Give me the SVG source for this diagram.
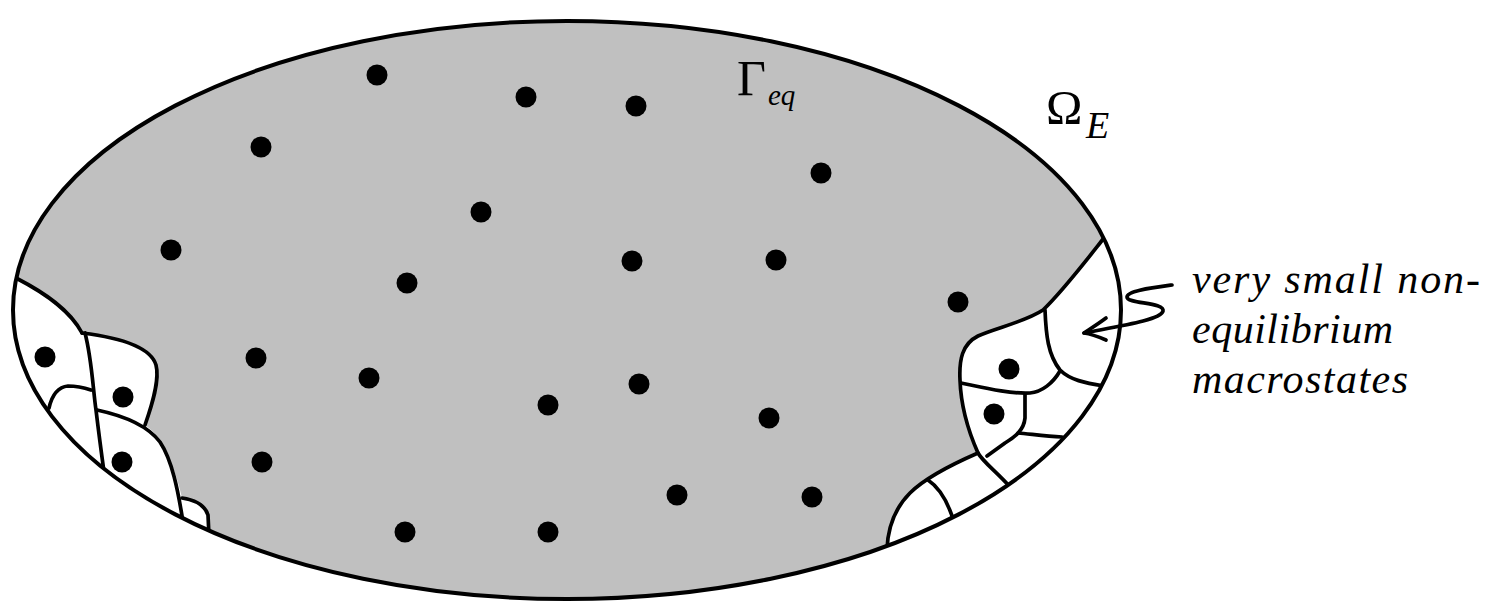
<svg xmlns="http://www.w3.org/2000/svg" width="1485" height="602" viewBox="0 0 1485 602">
<style>
.ln{fill:none;stroke:#000;stroke-width:3.7;stroke-linecap:round;stroke-linejoin:round}
.dot{fill:#000}
.t{font-family:"Liberation Serif","Times New Roman",serif;fill:#000}
.it{font-style:italic}
</style>
<defs>
<clipPath id="clipE"><ellipse cx="567" cy="310" rx="554" ry="289"/></clipPath>
</defs>
<rect width="1485" height="602" fill="#fff"/>
<g id="phase-space">
<ellipse cx="567" cy="310" rx="554" ry="289" fill="#c0c0c0"/>
</g>
<g id="noneq-left" clip-path="url(#clipE)">
<path fill="#fff" d="M0,262 L16,278 C45,293 70,310 82,333 C115,337 150,345 156,365 C160,380 152,405 145,425 C152,430 158,436 162,444 C172,462 178,480 182,498 C195,500 205,505 208,515 L209,548 L0,548 Z"/>
<path class="ln" d="M16,278 C45,293 70,310 82,333"/>
<path class="ln" d="M82,333 C115,337 150,345 156,365 C160,380 152,405 145,425"/>
<path class="ln" d="M85,333 C92,360 93,390 96,410 C99,435 101,450 104,472"/>
<path class="ln" d="M49,408 C52,395 58,387 68,386 C78,386 85,388 91,390"/>
<path class="ln" d="M97,410 C125,416 148,426 160,442 C172,460 178,490 183,522"/>
<path class="ln" d="M182,498 C195,500 205,505 208,515 L209,536"/>
</g>
<g id="noneq-right" clip-path="url(#clipE)">
<path fill="#fff" d="M1110,232 L1102,240 C1085,262 1062,292 1043,310 C1025,322 995,328 978,336 C962,344 959,360 960,380 C961,410 970,435 978,453 C955,463 925,478 910,493 C897,506 888,525 887,547 L887,602 L1140,602 L1140,232 Z"/>
<path class="ln" d="M1104,238 C1085,262 1062,292 1043,310 C1025,322 995,328 978,336 C962,344 959,360 960,380 C961,410 970,435 978,453 C983,462 997,472 1011,488"/>
<path class="ln" d="M978,453 C955,463 925,478 910,493 C897,506 888,525 887,549"/>
<path class="ln" d="M1045,310 C1046,335 1048,355 1060,370 C1070,380 1085,383 1104,386"/>
<path class="ln" d="M961,383 C985,388 1010,394 1030,393 C1042,392 1053,383 1060,371"/>
<path class="ln" d="M1025,394 L1025,418 C1024,430 1015,437 1005,443 L987,456"/>
<path class="ln" d="M1018,433 C1030,434 1045,436 1062,437"/>
<path class="ln" d="M928,480 C940,488 948,502 954,522"/>
</g>
<g id="boundary">
<ellipse cx="567" cy="310" rx="554" ry="289" fill="none" stroke="#000" stroke-width="4"/>
</g>
<g id="microstates">
<circle class="dot" cx="377" cy="75" r="10.5"/>
<circle class="dot" cx="526" cy="97" r="10.5"/>
<circle class="dot" cx="636" cy="106" r="10.5"/>
<circle class="dot" cx="261" cy="147" r="10.5"/>
<circle class="dot" cx="821" cy="173" r="10.5"/>
<circle class="dot" cx="481" cy="212" r="10.5"/>
<circle class="dot" cx="171" cy="250" r="10.5"/>
<circle class="dot" cx="632" cy="261" r="10.5"/>
<circle class="dot" cx="776" cy="260" r="10.5"/>
<circle class="dot" cx="407" cy="283" r="10.5"/>
<circle class="dot" cx="958" cy="302" r="10.5"/>
<circle class="dot" cx="256" cy="358" r="10.5"/>
<circle class="dot" cx="369" cy="378" r="10.5"/>
<circle class="dot" cx="639" cy="384" r="10.5"/>
<circle class="dot" cx="548" cy="405" r="10.5"/>
<circle class="dot" cx="769" cy="418" r="10.5"/>
<circle class="dot" cx="262" cy="462" r="10.5"/>
<circle class="dot" cx="677" cy="495" r="10.5"/>
<circle class="dot" cx="812" cy="497" r="10.5"/>
<circle class="dot" cx="405" cy="532" r="10.5"/>
<circle class="dot" cx="548" cy="532" r="10.5"/>
<circle class="dot" cx="45" cy="357" r="10.5"/>
<circle class="dot" cx="123" cy="397" r="10.5"/>
<circle class="dot" cx="122" cy="462" r="10.5"/>
<circle class="dot" cx="1009" cy="369" r="10.5"/>
<circle class="dot" cx="994" cy="414" r="10.5"/>
</g>
<g id="connectors">
<path class="ln" stroke-width="3.8" d="M1172,285 C1150,288 1127,291 1127,297 C1127,304 1165,302 1163,311 C1161,320 1120,326 1084,333"/>
<path class="ln" stroke-width="3.8" d="M1106,318 C1098,324 1090,329 1084,333 C1091,334 1099,337 1106,340"/>
</g>
<g id="label-gamma">
<text class="t" x="737" y="95" font-size="50">Γ</text>
<text class="t it" x="768" y="105" font-size="29">eq</text>
</g>
<g id="label-omega">
<text class="t" x="1046" y="124" font-size="49">Ω</text>
<text class="t it" x="1086" y="138" font-size="38">E</text>
</g>
<g id="label-noneq">
<text class="t it" x="1192" y="293" font-size="42" textLength="288" lengthAdjust="spacing">very small non-</text>
<text class="t it" x="1192" y="343" font-size="42" textLength="201" lengthAdjust="spacing">equilibrium</text>
<text class="t it" x="1192" y="393" font-size="42" textLength="216" lengthAdjust="spacing">macrostates</text>
</g>
</svg>
